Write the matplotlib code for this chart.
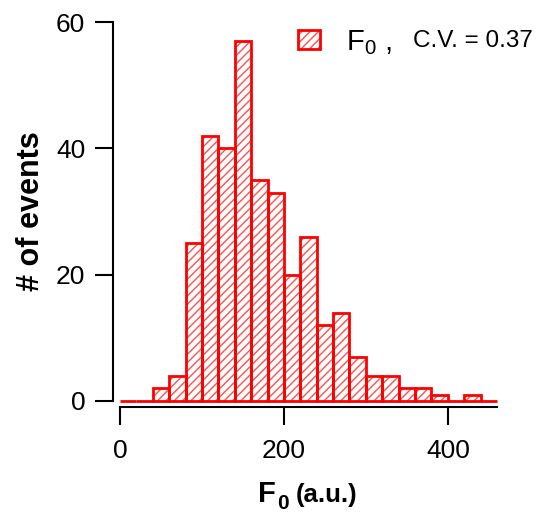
import matplotlib
matplotlib.use("Agg")
import matplotlib.pyplot as plt
import numpy as np

plt.rcParams['font.family'] = ['Liberation Sans', 'DejaVu Sans']
plt.rcParams['mathtext.fontset'] = 'custom'
plt.rcParams['mathtext.rm'] = 'Liberation Sans'
plt.rcParams['hatch.linewidth'] = 1.0

bin_edges = list(range(0, 480, 20))
counts = [0, 0, 2, 4, 25, 42, 40, 57, 35, 33, 20, 26, 12, 14, 7, 4, 4, 2, 2, 1, 0, 1, 0]
x_ticks = [0, 200, 400]
y_ticks = [0, 20, 40, 60]
legend_label = 'F$_\\mathregular{0}$ ,'
cv_text = 'C.V. = 0.37'

fig = plt.figure(figsize=(5.5, 5.14), dpi=100)
ax = fig.add_axes([120/550, 1-401/514, (497-120)/550, (401-22)/514])

h1 = ax.bar(bin_edges[:-1], counts, width=20, align='edge', facecolor='white',
            edgecolor='#ff5050', linewidth=0, hatch='////')
h2 = ax.bar(bin_edges[:-1], counts, width=20, align='edge', fill=False,
            edgecolor='#ff0000', linewidth=2, clip_on=False)

ax.set_xlim(0, 460)
ax.set_ylim(0, 60)
ax.set_xticks(x_ticks)
ax.set_yticks(y_ticks)
for s in ['top', 'right']:
    ax.spines[s].set_visible(False)
ax.spines['left'].set_position(('outward', 5))
ax.spines['bottom'].set_position(('outward', 4))
for s in ['left', 'bottom']:
    ax.spines[s].set_linewidth(1.5)
ax.tick_params(axis='both', direction='out', length=13, width=1.5, labelsize=19, pad=7)
ax.tick_params(axis='x', pad=10)

ax.set_ylabel('# of events', fontsize=22, fontweight='bold', labelpad=7)

fig.text(258/550, 1-502/514, 'F', fontsize=21, fontweight='bold', ha='left', va='baseline')
fig.text(277/550, 1-509/514, '0', fontsize=15, fontweight='bold', ha='left', va='baseline')
fig.text(296/550, 1-502/514, '(a.u.)', fontsize=18.5, fontweight='bold', ha='left', va='baseline')

leg = ax.legend(handles=[(h1.patches[7], h2.patches[7])], labels=[legend_label], loc='upper left',
                bbox_to_anchor=(298/550, 1-28/514), bbox_transform=fig.transFigure,
                frameon=False, fontsize=21, handlelength=0.75, handleheight=0.6,
                handletextpad=0.9, borderpad=0, borderaxespad=0)
fig.text(413/550, 1-47/514, cv_text, fontsize=17.5, ha='left', va='baseline')

fig.savefig('out.png', dpi=100)
